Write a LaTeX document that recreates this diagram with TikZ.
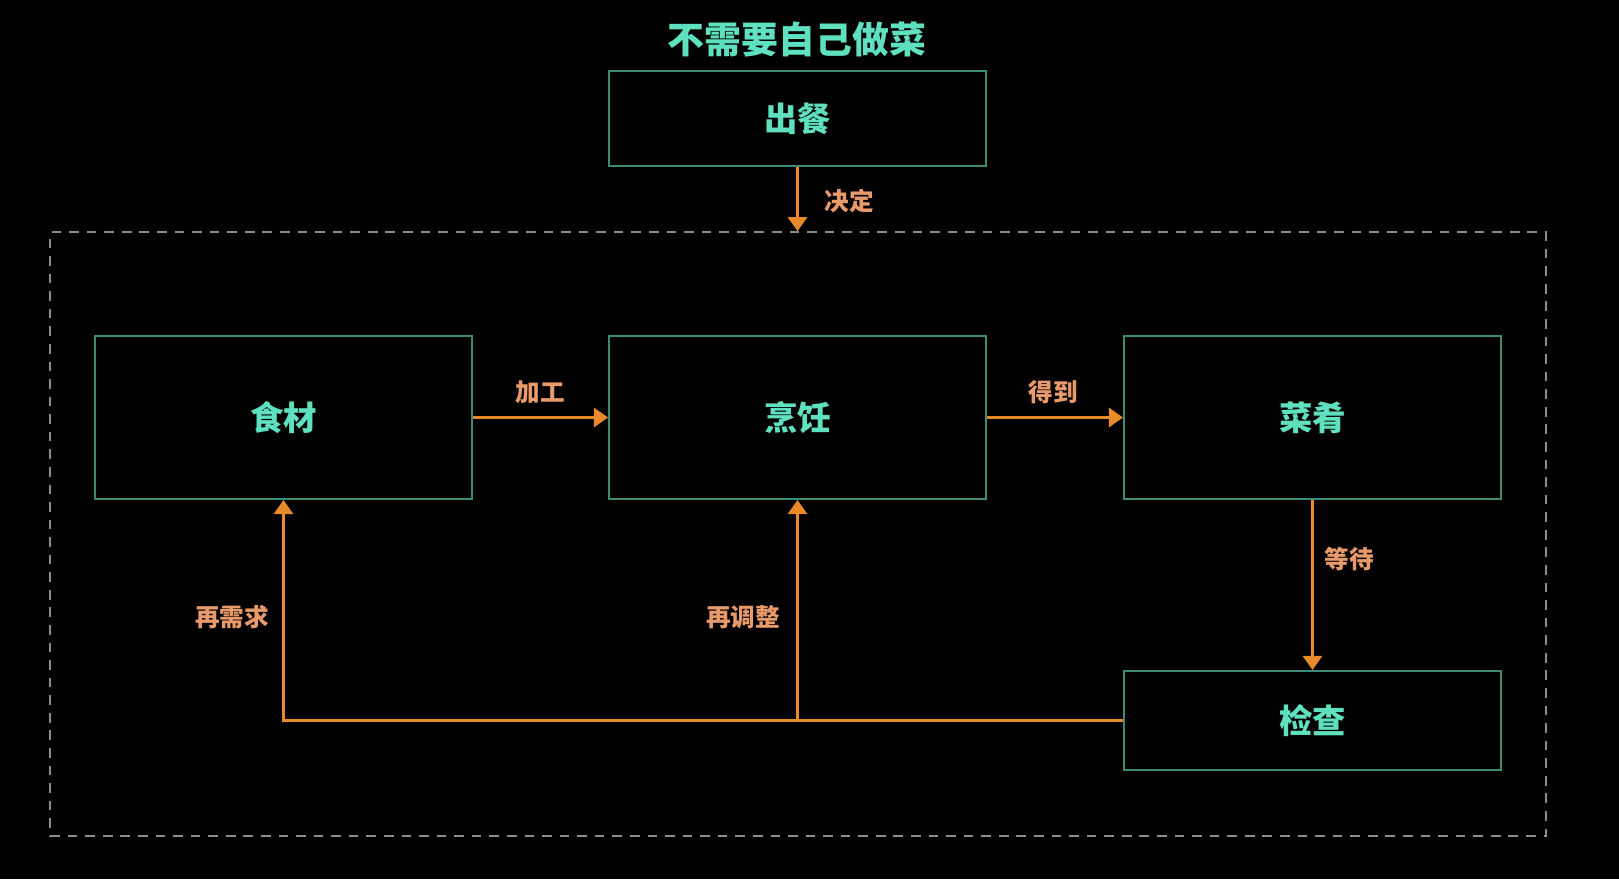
\documentclass[tikz,border=0pt]{standalone}
\usepackage{fontspec}
\setmainfont{Noto Sans CJK SC}
\usetikzlibrary{arrows.meta,positioning}
\definecolor{boxline}{HTML}{3E8A78}
\definecolor{boxtext}{HTML}{5FE0BE}
\definecolor{flowline}{HTML}{E8892A}
\definecolor{flowtext}{HTML}{E89A6A}
\definecolor{frameline}{HTML}{8C8C8C}

\begin{document}
\begin{tikzpicture}[x=0.02cm,y=-0.02cm,
  box/.style={draw=boxline,line width=1.2pt,rectangle,minimum width=7.54cm,minimum height=3.26cm,text=boxtext,font=\fontsize{19}{19}\selectfont\bfseries},
  flow/.style={draw=flowline,line width=1.2pt,-{Triangle[width=11pt,length=8pt]}},
  flowlabel/.style={text=flowtext,font=\fontsize{14}{14}\selectfont\bfseries},
  frame/.style={draw=frameline,line width=1pt,dash pattern=on 5.5pt off 4.5pt,rectangle,minimum width=29.92cm,minimum height=12.08cm}]

\fill[black] (0,0) rectangle (1619,879);
\useasboundingbox (0,0) rectangle (1619,879);

\node (title) [text=boxtext,font=\fontsize{21}{21}\selectfont\bfseries] at (797,40) {不需要自己做菜};
\node (chucan) [box,minimum height=1.9cm] at (797.5,118.5) {出餐};
\node (frame) [frame] at (798,534) {};

\node (shicai) [box] at (283.5,417.5) {食材};
\node (pengren) [box] at (797.5,417.5) {烹饪};
\node (caiyao) [box] at (1312.5,417.5) {菜肴};
\node (jiancha) [box,minimum height=1.98cm] at (1312.5,720.5) {检查};

\draw[flow] (chucan.south) -- (chucan.south |- frame.north);
\draw[flow] (shicai) -- (pengren);
\draw[flow] (pengren) -- (caiyao);
\draw[flow] (caiyao) -- (jiancha);
\draw[flow] (jiancha.west) -| (shicai.south);
\draw[flow] (jiancha.west -| pengren.south) -- (pengren.south);

\node (jueding) [flowlabel] at (849,201) {决定};
\node (jiagong) [flowlabel] at (540,392) {加工};
\node (dedao) [flowlabel] at (1053,392) {得到};
\node (dengdai) [flowlabel] at (1349,559) {等待};
\node (zaixuqiu) [flowlabel] at (232,617) {再需求};
\node (zaitiaozheng) [flowlabel] at (743,617) {再调整};

\end{tikzpicture}
\end{document}
